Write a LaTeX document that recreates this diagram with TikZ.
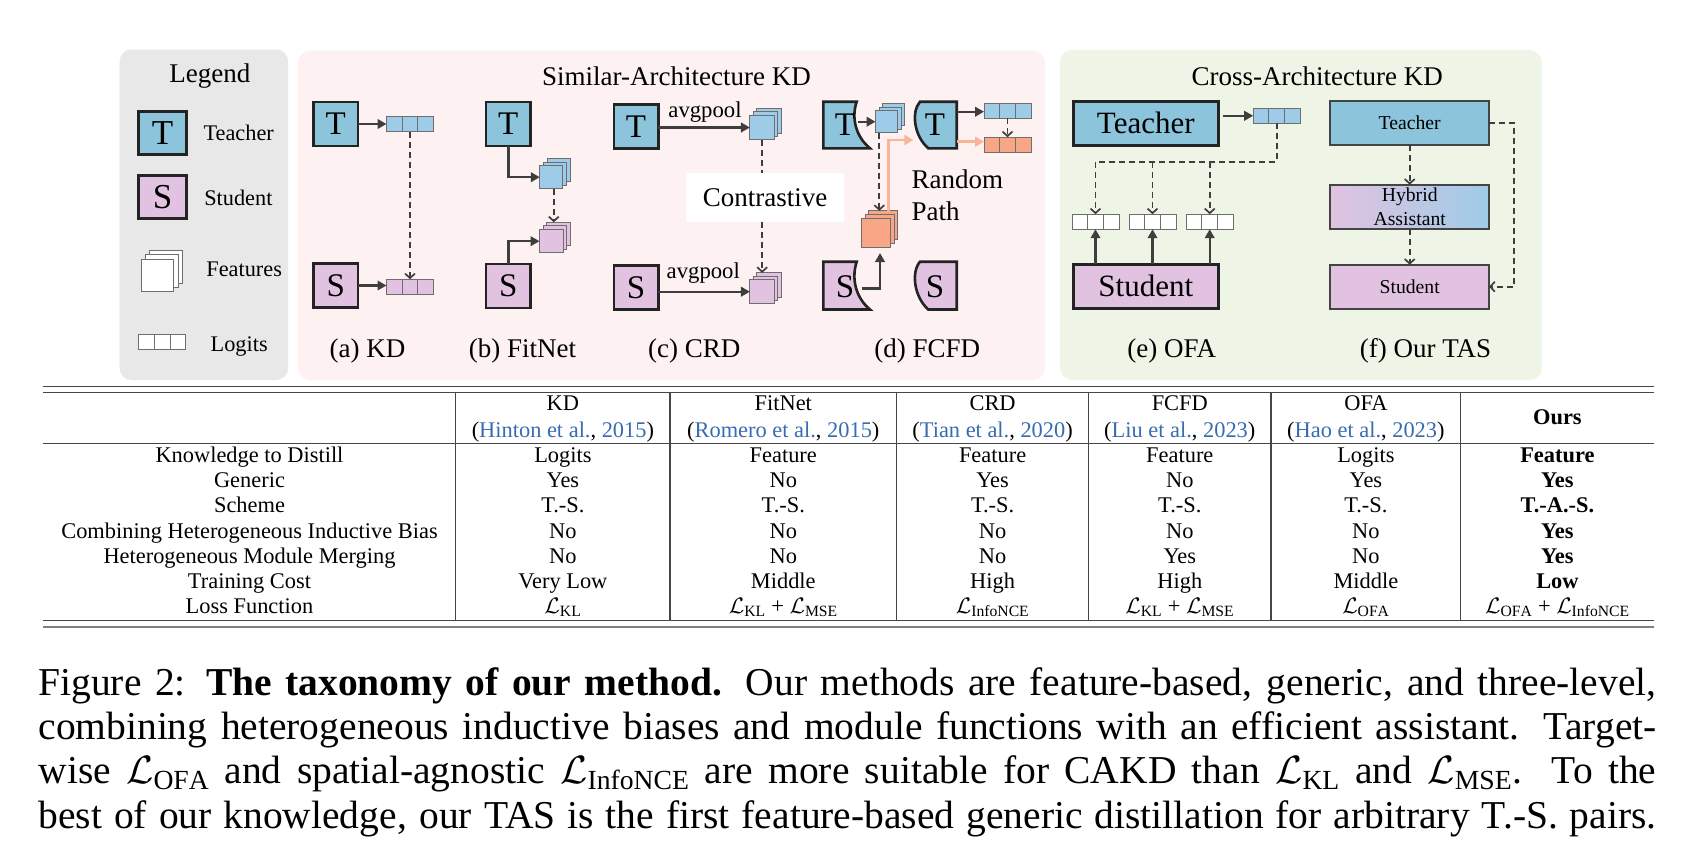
\documentclass[tikz,border=0pt]{standalone}
\usepackage{fix-cm}
\usepackage{fontspec}
\setmainfont{Liberation Serif}
\usetikzlibrary{arrows.meta,calc}
\definecolor{tblue}{RGB}{140,196,220}
\definecolor{lblue}{RGB}{158,204,232}
\definecolor{spink}{RGB}{225,195,225}
\definecolor{orng}{RGB}{248,166,134}
\definecolor{oline}{RGB}{250,180,152}
\definecolor{legbg}{RGB}{232,232,232}
\definecolor{pinkbg}{RGB}{253,242,241}
\definecolor{greenbg}{RGB}{238,245,230}
\definecolor{boxdark}{RGB}{35,35,35}
\definecolor{arrdark}{RGB}{62,62,62}
\definecolor{cellgray}{RGB}{110,110,110}
\definecolor{citeblue}{RGB}{56,108,178}
\definecolor{rulegray}{RGB}{70,70,70}

\newcommand\tabfont{\fontsize{22.4}{25.1}\selectfont}
\newcommand\capfont{\fontsize{39.5}{44.4}\selectfont}
\newcommand\ttlfont{\fontsize{27}{30}\selectfont}
\newcommand\legfont{\fontsize{22.3}{25}\selectfont}
\newcommand\letfont{\fontsize{33}{33}\selectfont}
\newcommand\bigletfont{\fontsize{35}{35}\selectfont}
\newcommand\avgfont{\fontsize{22.7}{25}\selectfont}
\newcommand\ofafont{\fontsize{31}{31}\selectfont}
\newcommand\tasfont{\fontsize{19.7}{24.3}\selectfont}

\newcommand\lgbar[4]{%
  \node[cell,fill=#4] (#1) at (#2,#3) {};
  \draw[cellsep] ($(#1.north west)!1/3!(#1.north east)$) -- ($(#1.south west)!1/3!(#1.south east)$);
  \draw[cellsep] ($(#1.north west)!2/3!(#1.north east)$) -- ($(#1.south west)!2/3!(#1.south east)$);}
\newcommand\fstack[6]{%
  \node[feat,fill=#6,minimum size=#4pt] (#1-b) at ($(#2,#3)+(2*#5,-2*#5)$) {};
  \node[feat,fill=#6,minimum size=#4pt] (#1-m) at ($(#2,#3)+(#5,-#5)$) {};
  \node[feat,fill=#6,minimum size=#4pt] (#1) at (#2,#3) {};}
\newcommand\ct[2]{(\textcolor{citeblue}{#1}, \textcolor{citeblue}{#2})}
\newcommand\Lsub[1]{$\mathcal{L}_{\mathrm{#1}}$}
\newcommand\trow[9]{%
  \node[tcell] (#1-1) at (249.5,#2) {#3};
  \node[tcell] (#1-2) at (562.9,#2) {#4};
  \node[tcell] (#1-3) at (783.3,#2) {#5};
  \node[tcell] (#1-4) at (992.6,#2) {#6};
  \node[tcell] (#1-5) at (1179.8,#2) {#7};
  \node[tcell] (#1-6) at (1365.9,#2) {#8};
  \node[tcell] (#1-7) at (1557.4,#2) {#9};}

\begin{document}
\begin{tikzpicture}[x=1pt,y=-1pt,
  bx/.style={draw=boxdark, line width=2.6pt, inner sep=0pt, outer sep=0pt},
  tbox/.style={bx, fill=tblue, minimum width=44.4pt, minimum height=44pt, font=\letfont},
  sbox/.style={tbox, fill=spink},
  legbox/.style={bx, minimum width=48.5pt, minimum height=43pt, font=\bigletfont},
  ofabox/.style={bx, line width=3pt, minimum width=145.3pt, minimum height=43.7pt, font=\ofafont},
  tasbox/.style={draw=boxdark!85, line width=1.8pt, inner sep=0pt, outer sep=0pt, minimum width=158.9pt, minimum height=44pt, font=\tasfont},
  cell/.style={draw=cellgray, line width=1pt, minimum width=47pt, minimum height=15pt, inner sep=0pt, outer sep=0pt},
  cellsep/.style={draw=cellgray, line width=1pt},
  feat/.style={draw=cellgray, line width=1pt, inner sep=0pt, outer sep=0pt},
  sarr/.style={draw=arrdark, line width=2.4pt, -{Triangle[length=9pt,width=9.5pt]}},
  darr/.style={draw=arrdark, line width=1.7pt, dash pattern=on 6pt off 4pt, -{Straight Barb[length=4.5pt,width=10pt]}},
  dline/.style={draw=arrdark, line width=1.7pt, dash pattern=on 6pt off 4pt},
  oarr/.style={draw=oline, line width=2.6pt, -{Triangle[length=9pt,width=10pt]}},
  lbl/.style={anchor=base, inner sep=0pt, outer sep=0pt},
  lblw/.style={anchor=base west, inner sep=0pt, outer sep=0pt},
  lettr/.style={inner sep=0pt, font=\letfont},
  tcell/.style={lbl, font=\tabfont},
  rule/.style={draw=rulegray, line width=1.3pt}]

\path[use as bounding box, fill=white] (0,0) rectangle (1690,854);

% panels
\fill[legbg, rounded corners=12pt] (119.6,49.5) rectangle (288.2,380);
\fill[pinkbg, rounded corners=12pt] (298.2,50.5) rectangle (1045,380);
\fill[greenbg, rounded corners=12pt] (1060,50) rectangle (1541.7,380);

\node[lbl,font=\ttlfont] (legT) at (209.8,82.7) {Legend};
\node[lbl,font=\ttlfont] (simT) at (676.5,85) {Similar-Architecture KD};
\node[lbl,font=\ttlfont] (croT) at (1317.2,85) {Cross-Architecture KD};

% legend
\node[legbox, fill=tblue] (lgT) at (162.5,133) {T};
\node[lblw,font=\legfont] (lgTt) at (203.6,140) {Teacher};
\node[legbox, fill=spink] (lgS) at (162.5,196.7) {S};
\node[lblw,font=\legfont] (lgSt) at (204.3,205) {Student};
\fstack{lgF}{157.7}{275.3}{32.5}{4.2}{white}
\node[lblw,font=\legfont] (lgFt) at (206.4,276.7) {Features};
\lgbar{lgL}{162.3}{342.3}{white}
\node[lblw,font=\legfont] (lgLt) at (210.7,351.2) {Logits};

% (a) KD
\node[tbox] (kdT) at (335.8,124) {T};
\lgbar{kdTl}{410}{124.3}{lblue}
\draw[sarr] (kdT.east) -- (kdT.east -| kdTl.west);
\node[sbox] (kdS) at (335.8,285.5) {S};
\lgbar{kdSl}{410}{286.7}{spink}
\draw[sarr] (kdS.east) -- (kdS.east -| kdSl.west);
\draw[darr] (kdTl.south) -- (kdSl.north);
\node[lbl,font=\ttlfont] (kdLab) at (367.5,357.5) {(a) KD};

% (b) FitNet
\node[tbox] (fnT) at (508.3,124) {T};
\fstack{fnF}{551.3}{177.2}{23}{3.6}{lblue}
\draw[sarr] (fnT.south) |- (fnF.west);
\fstack{fnP}{551.3}{241.2}{23.5}{3.6}{spink}
\node[sbox] (fnS) at (508.3,286) {S};
\draw[sarr] (fnS.north) |- (fnP.west);
\draw[darr] ([xshift=2.5pt]fnF.south) -- ([xshift=2.5pt]fnF.south |- fnP-b.north);
\node[lbl,font=\ttlfont] (fnLab) at (522.4,357.5) {(b) FitNet};

% (c) CRD
\node[tbox] (crT) at (636,126.3) {T};
\fstack{crF}{762.2}{127.5}{24.5}{3.3}{lblue}
\draw[sarr] (crT.east |- crF.west) -- (crF.west);
\node[lbl,font=\avgfont] (crA1) at (705,117.3) {avgpool};
\node[fill=white, inner sep=0pt, minimum width=158pt, minimum height=48.4pt, font=\ttlfont] (crC) at (765,197.5) {Contrastive};
\draw[dline] (crF.south) -- (crF.south |- crC.north);
\node[sbox] (crS) at (636,287.3) {S};
\fstack{crP}{762.2}{291.7}{24.5}{3.3}{spink}
\draw[darr] (crF.south |- crC.south) -- (crF.south |- crP-b.north);
\draw[sarr] (crS.east |- crP.west) -- (crP.west);
\node[lbl,font=\avgfont] (crA2) at (703.3,278.3) {avgpool};
\node[lbl,font=\ttlfont] (crLab) at (694.2,357.5) {(c) CRD};

% (d) FCFD
\draw[bx, fill=tblue] (823.3,101.7) -- (856.7,101.7) .. controls (851,118) and (856,137) .. (870,148.3) -- (823.3,148.3) -- cycle;
\node[lettr] (fcT1) at (845,125) {T};
\coordinate (fcT1o) at (858.3,121.7);
\fstack{fcF}{886.7}{121.7}{22.3}{3.5}{lblue}
\draw[sarr] (fcT1o) -- (fcF.west);
\draw[bx, fill=tblue] (920,101.7) -- (956.7,101.7) -- (956.7,148.3) -- (928.3,148.3) .. controls (914,136) and (911,112) .. (920,101.7) -- cycle;
\node[lettr] (fcT2) at (935,125) {T};
\coordinate (fcT2a) at (956.7,111.7);
\coordinate (fcT2b) at (956.7,141.7);
\lgbar{fcBl}{1007.5}{110.5}{lblue}
\lgbar{fcOl}{1007.5}{144.7}{orng}
\draw[sarr] (fcT2a) -- (fcT2a -| fcBl.west);
\draw[oarr] (fcT2b) -- (fcT2b -| fcOl.west);
\draw[darr] (fcBl.south) -- (fcOl.north);
\fstack{fcO}{876.2}{232.5}{29}{3.6}{orng}
\draw[darr] ([xshift=-7.4pt]fcF.south) -- ([xshift=-7.4pt]fcF.south |- fcO-b.north);
\coordinate (fcIn) at (913.3,140);
\draw[oarr] ([xshift=5pt]fcO-b.north) |- (fcIn);
\draw[bx, fill=spink] (823.3,261.7) -- (856.7,261.7) .. controls (851,279) and (856,298) .. (870,309.5) -- (823.3,309.5) -- cycle;
\node[lettr] (fcS1) at (845,286.5) {S};
\draw[bx, fill=spink] (920,261.7) -- (956.7,261.7) -- (956.7,309.5) -- (928.3,309.5) .. controls (914,297) and (911,272) .. (920,261.7) -- cycle;
\node[lettr] (fcS2) at (935,286.5) {S};
\coordinate (fcS1o) at (861.7,288.3);
\draw[sarr, shorten >=6pt] (fcS1o) -| ([xshift=3.8pt]fcO.south);
\node[lblw,font=\ttlfont] (fcR) at (911.7,188.3) {Random};
\node[lblw,font=\ttlfont] (fcP) at (911.7,220) {Path};
\node[lbl,font=\ttlfont] (fcLab) at (927.2,357.5) {(d) FCFD};

% (e) OFA
\node[ofabox, fill=tblue] (ofT) at (1145.8,123.3) {Teacher};
\lgbar{ofL}{1276.7}{115.8}{lblue}
\draw[sarr] ([xshift=5pt]ofT.east |- ofL.west) -- (ofL.west);
\lgbar{ofW1}{1095.5}{221.7}{white}
\lgbar{ofW2}{1152.5}{221.7}{white}
\lgbar{ofW3}{1209.7}{221.7}{white}
\coordinate (ofJ) at (1095.5,161.7);
\draw[dline] (ofL.south) |- (ofJ);
\draw[darr] (ofJ) -- (ofW1.north);
\draw[darr] (ofW2.north |- ofJ) -- (ofW2.north);
\draw[darr] (ofW3.north |- ofJ) -- (ofW3.north);
\node[ofabox, fill=spink] (ofS) at (1145.8,286.3) {Student};
\draw[sarr] (ofW1.south |- ofS.north) -- (ofW1.south);
\draw[sarr] (ofW2.south |- ofS.north) -- (ofW2.south);
\draw[sarr] (ofW3.south |- ofS.north) -- (ofW3.south);
\node[lbl,font=\ttlfont] (ofLab) at (1171.7,357.5) {(e) OFA};

% (f) Our TAS
\node[tasbox, fill=tblue] (taT) at (1409.7,123) {Teacher};
\node[tasbox, left color=spink, right color=lblue, align=center] (taH) at (1409.7,206.7) {Hybrid\\Assistant};
\node[tasbox, fill=spink] (taS) at (1409.7,286.7) {Student};
\draw[darr] (taT.south) -- (taH.north);
\draw[darr] (taH.south) -- (taS.north);
\draw[darr] (taT.east) -- ++(25,0) |- (taS.east);
\node[lbl,font=\ttlfont] (taLab) at (1425.5,357.5) {(f) Our TAS};

% table rules
\draw[rule] (43.3,386.7) -- (1654,386.7);
\draw[rule] (43.3,392.7) -- (1654,392.7);
\draw[rule] (43.3,443.3) -- (1654,443.3);
\draw[rule] (43.3,620.7) -- (1654,620.7);
\draw[rule, draw=gray, line width=1.8pt] (43.3,626.7) -- (1654,626.7);
\foreach \vx in {455.7,670,896.5,1088.6,1271,1460.7}
  \draw[rule] (\vx,392.7) -- (\vx,620.7);

% table text
\trow{h1}{410.7}{}{KD}{FitNet}{CRD}{FCFD}{OFA}{}
\trow{h2}{437.3}{}{\ct{Hinton et al.}{2015}}{\ct{Romero et al.}{2015}}{\ct{Tian et al.}{2020}}{\ct{Liu et al.}{2023}}{\ct{Hao et al.}{2023}}{}
\node[tcell] (hOurs) at (1557.4,424) {\textbf{Ours}};
\trow{r1}{462.7}{Knowledge to Distill}{Logits}{Feature}{Feature}{Feature}{Logits}{\textbf{Feature}}
\trow{r2}{487.8}{Generic}{Yes}{No}{Yes}{No}{Yes}{\textbf{Yes}}
\trow{r3}{512.9}{Scheme}{T.-S.}{T.-S.}{T.-S.}{T.-S.}{T.-S.}{\textbf{T.-A.-S.}}
\trow{r4}{538}{Combining Heterogeneous Inductive Bias}{No}{No}{No}{No}{No}{\textbf{Yes}}
\trow{r5}{563.1}{Heterogeneous Module Merging}{No}{No}{No}{Yes}{No}{\textbf{Yes}}
\trow{r6}{588.2}{Training Cost}{Very Low}{Middle}{High}{High}{Middle}{\textbf{Low}}
\trow{r7}{613.3}{Loss Function}{\Lsub{KL}}{\Lsub{KL} + \Lsub{MSE}}{\Lsub{InfoNCE}}{\Lsub{KL} + \Lsub{MSE}}{\Lsub{OFA}}{\Lsub{OFA} + \Lsub{InfoNCE}}

% caption
\node[anchor=base west, inner sep=0pt] (cap) at (38.3,695) {\parbox[t]{1618pt}{\capfont\hyphenpenalty=10000\parfillskip=0pt\relax
Figure 2: \textbf{The taxonomy of our method.} Our methods are feature-based, generic, and three-level,\linebreak
combining heterogeneous inductive biases and module functions with an efficient assistant. Target-\linebreak
wise $\mathcal{L}_{\mathrm{OFA}}$ and spatial-agnostic $\mathcal{L}_{\mathrm{InfoNCE}}$ are more suitable for CAKD than $\mathcal{L}_{\mathrm{KL}}$ and $\mathcal{L}_{\mathrm{MSE}}$. To the\linebreak
best of our knowledge, our TAS is the first feature-based generic distillation for arbitrary T.-S. pairs.}};
\end{tikzpicture}
\end{document}
